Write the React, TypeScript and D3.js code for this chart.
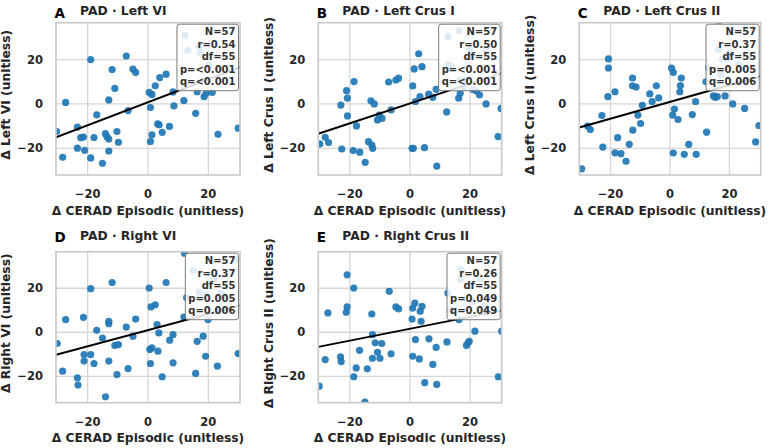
import React from "react";
import * as d3 from "d3";

// ---- data ----
const panelLetters = ["A", "B", "C", "D", "E"];
const panelTitles = ["PAD · Left VI", "PAD · Left Crus I", "PAD · Left Crus II", "PAD · Right VI", "PAD · Right Crus II"];
const yLabels = ["Δ Left VI (unitless)", "Δ Left Crus I (unitless)", "Δ Left Crus II (unitless)", "Δ Right VI (unitless)", "Δ Right Crus II (unitless)"];
const xLabel = "Δ CERAD Episodic (unitless)";
const tickValues = [-20, 0, 20];

const leftVI: [number, number][] = [
  [-30.3, -12.4], [-28.3, -24], [-27.3, 0.7], [-23.4, -10.4], [-23.4, -19.9], [-21.4, -14.9], [-22.3, -15.2], [-21, -20.9],
  [-19, 20], [-19, -24.3], [-17.9, -15.1], [-17, -4.9], [-15.1, -26.7], [-14.1, -13.4], [-13, 1.8], [-13, -15.8],
  [-13.6, -14.8], [-13, -21.2], [-11.9, 15.5], [-11, 7], [-10.3, -12.4], [-9.8, -17.3], [-7.2, 21.6], [-6.6, -3],
  [-5, 15.7], [-4.1, 14.2], [0.4, 5.2], [0.8, -1.6], [0.8, -16.9], [1.3, 4.3], [1.3, -13.9], [2.4, 8.2],
  [3.2, -9], [3.7, -9.4], [3.9, 11.9], [4.7, -12.8], [6, 13.4], [7.1, -10.1], [8.3, 5.4], [8.6, -0.9],
  [11.9, 1.5], [12.3, 30.9], [13.2, 24.2], [16.9, 25.7], [17.4, 22.7], [15.8, -4.2], [16.3, 5.5], [18.6, 3.3],
  [19.3, 4.8], [21.3, 5.2], [20.2, 17.5], [23.2, -13.7], [29.9, -10.9],
];
const leftCrusI: [number, number][] = [
  [-30, -18], [-28.2, -15], [-27.1, -17.4], [-23, -0.5], [-22.7, -20.3], [-21.1, 6], [-20.8, 2.6], [-20.8, -5.4],
  [-18.6, 10.1], [-18.9, -21], [-17.8, -9.9], [-16.7, -21.7], [-14.9, -26.3], [-13.8, -17], [-13, 1.4], [-12.7, -18.5],
  [-12.4, -20], [-11.9, 0], [-10.8, -7.2], [-10.2, -5], [-9.3, -6.5], [-7.1, 9.9], [-6.3, -2.7], [-4.7, 10.8],
  [-3.8, 11.6], [0.7, -20], [0.9, 8.1], [1.1, -20], [1.4, 15.8], [1.8, 1.1], [2.9, 22.6], [3.3, 3.3],
  [4, 16.8], [4.8, -19.7], [6.2, 4.4], [7.6, 3], [8.7, 6.6], [8.9, -28], [12.2, -3.6], [12.6, 30.4],
  [16.2, 2.6], [16.7, 4.8], [17.8, 7.5], [16.7, 10.8], [18.4, 10.8], [19.8, 24.4], [20.9, 6.6], [22, 6],
  [23.1, 4.1], [25.3, 0], [25.3, 24.4], [29.3, -14.7], [30.3, -2], [12.6, 17.7], [13.7, 17], [16.4, 33],
];
const leftCrusII: [number, number][] = [
  [-29.7, -29.2], [-27.7, -10], [-26.8, -11.5], [-22.9, -5.2], [-22.6, -19.4], [-20.9, 3.3], [-20.7, 20.3], [-20.7, 16.2],
  [-18.5, 5.5], [-18.5, -22], [-17.6, -15.2], [-16.5, -22.4], [-14.8, -25.8], [-13.7, -18.2], [-12.6, 11.7], [-12.6, 8.2],
  [-12.5, -11.8], [-11.4, 7.6], [-10.8, -5], [-9.9, -8.8], [-9.3, -0.6], [-6.8, 4.5], [-6, 1.1], [-4.6, 8.2],
  [-3.8, 2.7], [0.5, 16.2], [0.9, -5], [1.1, 14.2], [1.1, -22.1], [1.5, -2.3], [2.7, -7], [3.3, 5.5],
  [3.5, 8.3], [3.8, 11.7], [4.8, -22.7], [6.3, -18.2], [7.5, -4.8], [8.6, 1.1], [8.8, -22.7], [12.1, 10],
  [12.3, -12.7], [13, 16.2], [14.6, 3.6], [15.2, 3], [15.9, 3.3], [16.5, 37.4], [16.3, 24.5], [17.1, 13.2],
  [18.5, 3.6], [19.8, 23], [21.1, 0], [23.1, 17.7], [25.1, -2], [28.8, -17.1], [29.9, -9.7], [17.6, 20.2], [19.2, 20.2],
];
const rightVI: [number, number][] = [
  [-30.1, -5.1], [-28.3, -17.7], [-27.3, 5.7], [-23.4, -20.7], [-23.2, -24], [-21.4, 6.8], [-21.2, -10.1], [-21.2, -13.1],
  [-19, 19.8], [-19, -10.1], [-17.9, -14.2], [-17, 0.9], [-15.1, -2.6], [-14.1, -29.3], [-13, 5], [-13, 3.9],
  [-13, -13.1], [-11.9, 22.6], [-11, -6], [-9.8, -5.6], [-10.3, -19.2], [-7.2, 2.4], [-6.6, -16.5], [-5, -1.8],
  [-4.1, 6], [0.4, 20.1], [0.6, -7.8], [0.8, -14.2], [1.3, -7.1], [1, 11.5], [2.4, 12.5], [3, 3.5],
  [3.6, -0.3], [3.3, -8.6], [4.7, -20.2], [6, 22.6], [7.2, -3.6], [8.3, -1.1], [8.3, -13.9], [11.9, 6.9],
  [12.1, 35.9], [12.8, 15.8], [15, 28], [16.3, -4.1], [15.8, -18.7], [16.9, 18.1], [18.3, -1.8], [19.1, -10.9],
  [19.9, 5.7], [23, -15.4], [24.1, 17.8], [29.1, 32.9], [29.9, -9.7], [21.9, 24.2], [19.1, 16.6], [25.2, 16.6], [23, 9.8],
];
const rightCrusII: [number, number][] = [
  [-30.2, -24.5], [-28.2, -12.4], [-27.3, 8.8], [-23.1, -11.2], [-22.9, -13.3], [-21.2, 9.1], [-20.9, 11.5], [-20.9, 26.1],
  [-18.7, 20.1], [-18.7, -20.2], [-17.9, -16.2], [-16.8, -8.2], [-14.2, -16.6], [-15, -31.7], [-12.7, 8.3], [-12.5, -1.1],
  [-12.5, -11.8], [-11.6, -4.8], [-10.8, -9.1], [-10, -11.8], [-9.4, -5.1], [-6.9, 18.6], [-6.3, -9.8], [-4.7, 11.5],
  [-3.8, 10.6], [0.7, 6], [0.9, 11], [0.9, -10.9], [1.6, 13.3], [1.8, -3.3], [3.1, -12.1], [3.4, 9.5],
  [3.7, 5], [4, 11.8], [4.9, -22.9], [6.3, -3], [7.6, -14.6], [8.7, -6.9], [8.9, -23.7], [12.3, -4.4],
  [12.6, 17.8], [13.4, 10], [16.3, 5.7], [16.8, 28.7], [16.8, 23.8], [18.8, -6], [19.3, -4.8], [19.7, -4.1],
  [21.6, 0.5], [23.5, 24.2], [29.4, -20.2], [30.5, 0.5], [24.9, 12], [25.5, 9], [20.8, 14],
];
const panelData = [leftVI, leftCrusI, leftCrusII, rightVI, rightCrusII];

const statN = [57, 57, 57, 57, 57];
const statR = ["0.54", "0.50", "0.37", "0.37", "0.26"];
const statDf = [55, 55, 55, 55, 55];
const statP = ["<0.001", "<0.001", "0.005", "0.005", "0.049"];
const statQ = ["<0.001", "<0.001", "0.006", "0.006", "0.049"];
const fitSlope = [0.517, 0.447, 0.378, 0.367, 0.27];
const fitIntercept = [0.76, 0.24, 0.92, 1.0, 1.6];

// ---- layout ----
const W = 772, H = 448;
const cols = [{ l: 56, r: 240 }, { l: 318.3, r: 501.7 }, { l: 579.3, r: 760.7 }];
const rows = [{ t: 22.7, b: 175, titleY: 15, letterY: 17.5 }, { t: 251.7, b: 402.7, titleY: 240, letterY: 241.5 }];
const FONT = "'DejaVu Sans', sans-serif";
const DOT = "#1f77b4";

let ctx: CanvasRenderingContext2D | null = null;
function textWidth(s: string, font: string) {
  if (!ctx) ctx = document.createElement("canvas").getContext("2d");
  if (!ctx) return s.length * 6.5;
  ctx.font = font;
  return ctx.measureText(s).width;
}

function Panel({ i }: { i: number }) {
  const col = cols[i % 3];
  const row = rows[Math.floor(i / 3)];
  const x = d3.scaleLinear().domain([-30.5, 30.5]).range([col.l, col.r]);
  const y = d3.scaleLinear().domain([-32, 36.6]).range([row.b, row.t]);
  const data = panelData[i];
  const clipId = `clip${i}`;
  const [x0, x1] = x.domain();
  const line = d3.line<number>().x((v) => x(v)).y((v) => y(fitSlope[i] * v + fitIntercept[i]));
  const fmt = (v: number) => (v < 0 ? "\u2212" + Math.abs(v) : String(v));
  const lines = [`N=${statN[i]}`, `r=${statR[i]}`, `df=${statDf[i]}`, `p=${statP[i]}`, `q=${statQ[i]}`];
  const boxFont = `bold 10px ${FONT}`;
  const maxW = Math.max(...lines.map((s) => textWidth(s, boxFont)));
  const boxR = col.r - 1.5;
  const boxW = maxW + 6;
  const boxT = row.t + 1.5;
  const boxH = 66.5;
  const cx = (col.l + col.r) / 2;
  const cy = (row.t + row.b) / 2;
  return (
    <g>
      <defs>
        <clipPath id={clipId}>
          <rect x={col.l} y={row.t} width={col.r - col.l} height={row.b - row.t} />
        </clipPath>
      </defs>
      {tickValues.map((t) => (
        <g key={t}>
          <line x1={x(t)} x2={x(t)} y1={row.t} y2={row.b} stroke="#d6d6d6" strokeWidth={1.3} />
          <line x1={col.l} x2={col.r} y1={y(t)} y2={y(t)} stroke="#d6d6d6" strokeWidth={1.3} />
        </g>
      ))}
      <g clipPath={`url(#${clipId})`}>
        {data.map((d, k) => (
          <circle key={k} cx={x(d[0])} cy={y(d[1])} r={3.6} fill={DOT} fillOpacity={0.92} />
        ))}
        <path d={line([x0, x1]) || ""} stroke="#000" strokeWidth={2} fill="none" />
      </g>
      <rect x={col.l} y={row.t} width={col.r - col.l} height={row.b - row.t} fill="none" stroke="#c8c8c8" strokeWidth={1.6} />
      <rect x={boxR - boxW} y={boxT} width={boxW} height={boxH} rx={2.5} fill="#ffffff" fillOpacity={0.85} stroke="#7a7a7a" strokeWidth={1} />
      {lines.map((s, k) => (
        <text key={k} x={boxR - 3} y={boxT + 11 + k * 12.5} textAnchor="end" fontFamily={FONT} fontWeight="bold" fontSize={10} fill="#333">
          {s}
        </text>
      ))}
      {tickValues.map((t) => (
        <text key={"xt" + t} x={x(t)} y={row.b + 23} textAnchor="middle" fontFamily={FONT} fontWeight="bold" fontSize={11.5} fill="#262626">
          {fmt(t)}
        </text>
      ))}
      {tickValues.map((t) => (
        <text key={"yt" + t} x={col.l - 13} y={y(t)} dy="0.36em" textAnchor="end" fontFamily={FONT} fontWeight="bold" fontSize={11.5} fill="#262626">
          {fmt(t)}
        </text>
      ))}
      <text x={cx} y={row.b + 39.5} textAnchor="middle" fontFamily={FONT} fontWeight="bold" fontSize={12.3} fill="#262626">
        {xLabel}
      </text>
      <text transform={`translate(${col.l - 50},${cy - 4}) rotate(-90)`} dy="0.36em" textAnchor="middle" fontFamily={FONT} fontWeight="bold" fontSize={12.3} fill="#262626">
        {yLabels[i]}
      </text>
      <text x={col.l - 1.5} y={row.letterY} fontFamily={FONT} fontWeight="bold" fontSize={13.5} fill="#000">
        {panelLetters[i]}
      </text>
      <text x={col.l + 24} y={row.titleY} fontFamily={FONT} fontWeight="bold" fontSize={12.3} fill="#262626">
        {panelTitles[i]}
      </text>
    </g>
  );
}

export default function App() {
  return (
    <svg width={W} height={H} viewBox={`0 0 ${W} ${H}`} style={{ position: "absolute", left: 0, top: 0, background: "#fff" }}>
      <rect width={W} height={H} fill="#fff" />
      {panelData.map((_, i) => (
        <Panel key={i} i={i} />
      ))}
    </svg>
  );
}
